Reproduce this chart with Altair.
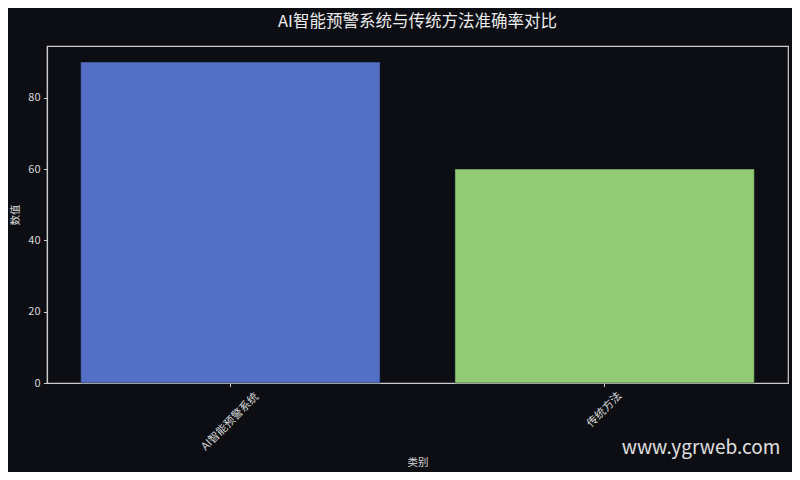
import altair as alt
import pandas as pd

categories = ["AI智能预警系统", "传统方法"]
values = [90, 60]
bar_colors = ["#5470c6", "#91cc75"]
y_ticks = [0, 20, 40, 60, 80]
title_text = ["AI智能预警系统与传统方法准确率对比"]
x_title = "类别"
y_title = "数值"
watermark = ["www.ygrweb.com"]

df = pd.DataFrame({"类别": categories, "数值": values})

FONT = "Noto Sans CJK SC"
BG = "#0c0e14"
AX = "#cccccc"
TXT = "#d8d8d8"
W, H = 741, 337

bars = alt.Chart(df).mark_bar(stroke=BG, strokeOpacity=0.45, strokeWidth=1).encode(
    x=alt.X(
        "类别:N",
        sort=categories,
        scale=alt.Scale(paddingInner=0.2, paddingOuter=0.09),
        axis=alt.Axis(
            title=x_title,
            labelAngle=-45,
            labelAlign="center",
            labelBaseline="middle",
            labelPadding={"condition": {"test": f"datum.value == '{categories[1]}'", "value": 23}, "value": 35},
            tickSize=3.5,
            titleY=79,
            titleBaseline="middle",
        ),
    ),
    y=alt.Y(
        "数值:Q",
        scale=alt.Scale(domain=[0, 94.5], nice=False),
        axis=alt.Axis(
            title=y_title,
            values=y_ticks,
            tickSize=3.5,
            labelPadding=3.5,
            grid=False,
            titleX=-32,
            titleY=H / 2,
            titleBaseline="middle",
        ),
    ),
    color=alt.Color("类别:N", scale=alt.Scale(domain=categories, range=bar_colors), legend=None),
)

title = alt.Chart(pd.DataFrame({"t": title_text})).mark_text(
    font=FONT, fontSize=16.5, color="#ececec", align="center", baseline="middle"
).encode(text="t:N", x=alt.value(W / 2), y=alt.value(-24))

mark = alt.Chart(pd.DataFrame({"t": watermark})).mark_text(
    font=FONT, fontSize=19, color="#e0e0e0", align="center", baseline="middle"
).encode(text="t:N", x=alt.value(654), y=alt.value(402))

chart = alt.layer(bars, title, mark).properties(
    width=W,
    height=H,
    background=BG,
    autosize=alt.AutoSizeParams(type="none"),
    padding={"left": 39, "top": 38, "right": 4, "bottom": 89},
).configure_view(stroke=AX, strokeWidth=1.2).configure_axis(
    domainColor=AX, tickColor=AX, labelColor=TXT, titleColor=TXT,
    labelFont=FONT, titleFont=FONT, labelFontSize=11, titleFontSize=10.5,
    titleFontWeight="normal", domainWidth=1.2, tickWidth=1,
)

chart.save("out.html", embed_options={"renderer": "svg", "actions": False})
